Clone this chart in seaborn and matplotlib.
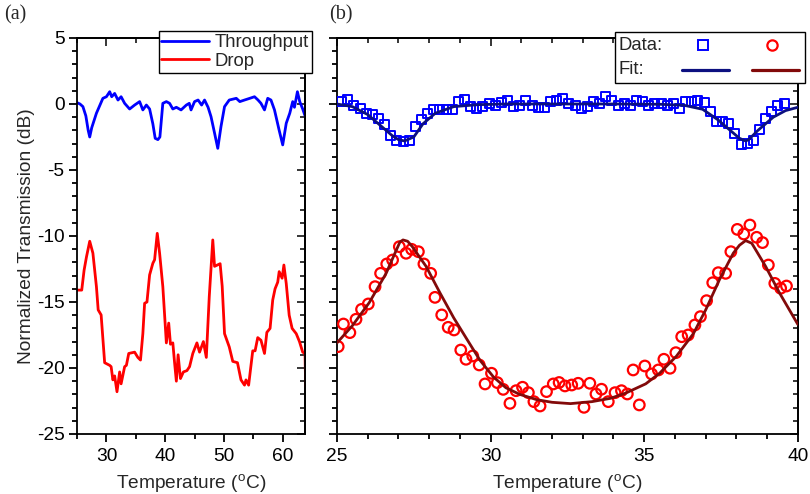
import numpy as np
import pandas as pd
import matplotlib
matplotlib.use("Agg")
import matplotlib.pyplot as plt
from matplotlib.ticker import MultipleLocator, NullFormatter
from matplotlib.lines import Line2D
from matplotlib.patches import Rectangle
import seaborn as sns

# ---------------- data ----------------
# panel (a)
thr_T = [25.0, 25.5, 26.0, 26.5, 26.9, 27.16, 27.5, 28.3, 29.4, 30.0, 30.56, 30.9, 31.4, 31.97,
         32.5, 33.1, 33.95, 34.8, 35.65, 36.2, 36.8, 37.35, 37.9, 38.3, 38.76, 39.1, 39.6, 40.2,
         40.75, 41.3, 41.9, 42.7, 43.6, 44.1, 44.4, 45.0, 45.6, 46.2, 46.7, 47.3, 47.8, 48.4,
         48.95, 49.5, 50.1, 50.9, 52.1, 52.7, 53.5, 54.4, 55.2, 55.8, 56.3, 56.9, 57.45, 58.0,
         58.6, 59.4, 60.0, 60.6, 61.2, 61.7, 62.0, 62.5, 62.9, 63.4, 63.85]
thr_v = [0.1, 0.0, -0.2, -0.9, -2.0, -2.5, -1.8, -0.7, 0.43, 0.55, 0.93, 0.55, 0.8, 0.3,
         0.55, 0.05, -0.38, -0.08, 0.18, -0.45, -0.08, -0.38, -1.5, -2.6, -2.7, -2.5, 0.05, 0.18,
         0.05, -0.38, -0.25, -0.45, -0.08, 0.05, -0.45, 0.18, 0.3, -0.08, 0.3, -0.25, -0.96, -2.2,
         -3.36, -1.7, -0.2, 0.3, 0.43, 0.18, 0.3, 0.43, 0.55, 0.3, 0.05, -0.45, 0.43, 0.3,
         -0.45, -2.0, -3.1, -1.46, -0.7, 0.18, -0.25, 0.93, 0.18, -0.38, -0.96]

drop_T = [25.0, 25.8, 26.2, 26.6, 27.16, 27.7, 28.3, 28.6, 29.1, 29.7, 30.55, 30.8, 31.1, 31.4,
          31.8, 32.25, 32.5, 33.1, 33.4, 33.8, 34.8, 35.35, 35.8, 36.2, 36.5, 36.9, 37.35, 37.9,
          38.2, 38.65, 39.05, 39.6, 40.2, 40.6, 40.9, 41.3, 41.6, 41.9, 42.2, 42.6, 43.1, 43.7,
          44.15, 44.7, 45.4, 45.85, 46.5, 47.0, 47.5, 48.1, 48.4, 49.35, 49.7, 50.1, 50.9, 51.5,
          52.3, 52.9, 53.5, 53.75, 54.2, 54.9, 55.3, 55.75, 56.3, 56.9, 57.3, 57.85, 58.3, 58.7,
          59.15, 59.4, 59.9, 60.2, 60.6, 61.1, 61.6, 62.3, 62.85, 63.4, 63.8, 63.9]
drop_v = [-14.1, -14.1, -12.6, -11.6, -10.4, -11.3, -13.84, -15.6, -15.98, -19.6, -19.8, -19.9, -20.9, -20.6,
          -21.8, -20.3, -21.2, -19.9, -19.8, -18.9, -18.8, -19.2, -19.4, -17.4, -15.1, -15.0, -12.95, -12.07,
          -11.8, -9.8, -11.3, -13.84, -18.1, -16.6, -18.2, -18.1, -19.6, -21.0, -19.0, -20.8, -20.3, -20.2,
          -19.9, -18.9, -18.1, -18.8, -18.0, -19.2, -14.6, -10.3, -12.3, -12.1, -13.8, -17.4, -18.4, -19.5,
          -19.6, -20.9, -21.3, -20.9, -21.3, -18.7, -18.7, -17.7, -17.9, -18.9, -17.3, -17.0, -14.85, -14.0,
          -13.5, -12.7, -13.2, -12.2, -13.6, -16.0, -17.0, -17.4, -18.0, -18.8, -18.9, -21.4]

# panel (b) data points
sq_T = [25.15, 25.35, 25.55, 25.75, 25.95, 26.15, 26.35, 26.55, 26.75, 26.95, 27.15, 27.35, 27.55,
        27.75, 27.95, 28.15, 28.35, 28.55, 28.75, 28.95, 29.15, 29.35, 29.55, 29.75, 29.95, 30.15,
        30.35, 30.55, 30.75, 30.95, 31.15, 31.35, 31.55, 31.75, 31.95, 32.15, 32.35, 32.55, 32.75,
        32.95, 33.15, 33.35, 33.55, 33.75, 33.95, 34.15, 34.35, 34.55, 34.75, 34.95, 35.15, 35.35,
        35.55, 35.75, 35.95, 36.15, 36.35, 36.55, 36.75, 36.95, 37.15, 37.35, 37.55, 37.75, 37.95,
        38.15, 38.35, 38.55, 38.75, 38.95, 39.15, 39.35, 39.55]
sq_v = [0.18, 0.35, -0.08, -0.33, -0.71, -0.83, -1.08, -1.59, -2.42, -2.73, -2.85, -2.73, -1.72,
        -1.21, -0.71, -0.45, -0.38, -0.38, -0.45, 0.18, 0.35, -0.2, -0.33, -0.2, 0.05, -0.08,
        0.1, 0.3, -0.2, -0.08, 0.25, -0.15, -0.25, -0.25, 0.18, 0.25, 0.43, 0.05, -0.08,
        -0.33, -0.2, 0.18, 0.05, 0.55, 0.3, -0.08, 0.0, -0.08, 0.25, 0.18, -0.15, 0.05,
        0.0, -0.08, 0.0, -0.33, 0.18, 0.18, 0.25, 0.1, -0.58, -1.34, -1.34, -1.46, -2.22,
        -3.1, -2.98, -2.73, -1.97, -1.08, -0.58, -0.08, 0.0]

ci_T = [25.04, 25.21, 25.42, 25.62, 25.80, 26.02, 26.24, 26.42, 26.62, 26.81, 27.03, 27.25, 27.43,
        27.65, 27.83, 28.05, 28.19, 28.41, 28.62, 28.81, 29.03, 29.20, 29.42, 29.63, 29.82, 30.03,
        30.22, 30.41, 30.63, 30.83, 31.04, 31.23, 31.41, 31.61, 31.82, 32.04, 32.23, 32.42, 32.64,
        32.85, 33.04, 33.23, 33.43, 33.61, 33.83, 34.05, 34.26, 34.45, 34.64, 34.84, 35.02, 35.24,
        35.46, 35.64, 35.84, 36.03, 36.22, 36.43, 36.65, 36.83, 37.03, 37.23, 37.41, 37.65, 37.82,
        38.03, 38.24, 38.44, 38.66, 38.85, 39.04, 39.25, 39.44, 39.63]
ci_v = [-18.38, -16.67, -17.32, -16.31, -15.56, -15.15, -13.84, -12.83, -12.12, -11.82, -10.81, -11.31, -11.01,
        -11.19, -12.12, -12.83, -14.65, -15.98, -16.92, -17.12, -18.64, -19.34, -19.09, -19.77, -21.21, -20.40,
        -21.11, -21.62, -22.68, -21.72, -21.46, -21.87, -22.55, -22.88, -21.79, -21.21, -21.10, -21.36, -21.29,
        -21.16, -22.98, -21.16, -21.97, -21.61, -22.55, -21.87, -21.72, -21.97, -20.15, -22.80, -19.85, -20.45,
        -20.15, -19.34, -20.02, -18.84, -17.63, -17.50, -16.74, -16.11, -14.90, -13.54, -12.78, -12.83, -11.19,
        -9.50, -9.85, -9.17, -10.10, -10.50, -12.20, -13.59, -13.96, -13.79]

# panel (b) fit curves
fitb_T = [25.0, 25.5, 26.0, 26.5, 26.8, 27.0, 27.2, 27.5, 27.8, 28.2, 28.8, 29.6, 30.5, 32.0, 34.0,
          35.5, 36.3, 36.9, 37.4, 37.8, 38.1, 38.3, 38.4, 38.7, 39.2, 39.6, 40.0]
fitb_v = [0.0, -0.2, -0.8, -1.8, -2.4, -2.7, -2.8, -2.5, -1.5, -0.7, -0.2, -0.05, 0.0, 0.0, 0.0,
          -0.02, -0.1, -0.4, -1.2, -2.0, -2.6, -2.8, -2.7, -2.0, -1.0, -0.5, -0.25]

fitr_T = [25.0, 25.5, 26.05, 26.6, 26.85, 27.05, 27.15, 27.3, 27.45, 27.9, 28.35, 28.8, 29.25, 29.65,
          30.1, 30.5, 30.95, 31.5, 32.0, 32.6, 33.3, 33.9, 34.4, 35.05, 35.5, 36.05, 36.6, 37.0,
          37.45, 37.9, 38.1, 38.3, 38.5, 38.95, 39.4, 39.85, 40.0]
fitr_v = [-18.1, -16.8, -15.05, -12.83, -11.5, -10.45, -10.3, -10.4, -10.8, -12.3, -14.3, -16.2, -17.9, -19.4,
          -20.7, -21.5, -22.0, -22.4, -22.6, -22.7, -22.55, -22.3, -21.9, -21.2, -20.4, -19.1, -17.4, -15.6,
          -13.3, -11.3, -10.7, -10.35, -10.55, -12.3, -14.3, -16.1, -16.7]

# ---------------- style ----------------
sns.set_theme(style="ticks")
plt.rcParams["font.family"] = ["Liberation Sans", "DejaVu Sans"]
plt.rcParams["mathtext.fontset"] = "custom"
plt.rcParams["mathtext.rm"] = "Liberation Sans"
plt.rcParams["mathtext.it"] = "Liberation Sans:italic"
plt.rcParams["axes.linewidth"] = 1.3
plt.rcParams["axes.unicode_minus"] = False

BLUE = "#0000ff"
RED = "#ff0000"
NAVY = "#0c1080"
DARKRED = "#820a0a"

W, H = 810, 494
fig = plt.figure(figsize=(W / 100, H / 100), dpi=100)
axA = fig.add_axes([0.0951, 0.1215, 0.2815, 0.8016])
axB = fig.add_axes([0.4160, 0.1215, 0.5690, 0.8016])

FS = 13.8
LFS = 13.3


def style_axes(ax, xmaj, xmin, ylabels=True):
    ax.set_ylim(-25, 5)
    ax.xaxis.set_major_locator(MultipleLocator(xmaj))
    ax.xaxis.set_minor_locator(MultipleLocator(xmin))
    ax.yaxis.set_major_locator(MultipleLocator(5))
    ax.yaxis.set_minor_locator(MultipleLocator(1))
    ax.tick_params(which="major", direction="out", length=6, width=1.3,
                   labelsize=FS, colors="black", pad=4)
    ax.tick_params(which="minor", direction="out", length=3.5, width=1.3, colors="black")
    ax.tick_params(axis="y", labelleft=ylabels, pad=3)
    for s in ax.spines.values():
        s.set_color("black")
        s.set_linewidth(1.3)
        s.set_visible(True)
    top = ax.secondary_xaxis("top")
    top.xaxis.set_major_locator(MultipleLocator(xmaj))
    top.xaxis.set_minor_locator(MultipleLocator(xmin))
    top.tick_params(which="major", direction="in", length=6, width=1.3, labeltop=False)
    top.tick_params(which="minor", direction="in", length=3.5, width=1.3)
    top.xaxis.set_major_formatter(NullFormatter())
    right = ax.secondary_yaxis("right")
    right.yaxis.set_major_locator(MultipleLocator(5))
    right.yaxis.set_minor_locator(MultipleLocator(1))
    right.tick_params(which="major", direction="in", length=6, width=1.3, labelright=False)
    right.tick_params(which="minor", direction="in", length=3.5, width=1.3)
    right.yaxis.set_major_formatter(NullFormatter())
    for sec in (top, right):
        for s in sec.spines.values():
            s.set_linewidth(1.3)
            s.set_color("black")


# ---------------- panel (a) ----------------
dfa = pd.DataFrame({"T": thr_T, "v": thr_v})
dfd = pd.DataFrame({"T": drop_T, "v": drop_v})
sns.lineplot(data=dfa, x="T", y="v", ax=axA, color=BLUE, lw=2.0, label="Throughput",
             estimator=None, sort=False)
sns.lineplot(data=dfd, x="T", y="v", ax=axA, color=RED, lw=2.0, label="Drop",
             estimator=None, sort=False)
axA.set_xlim(25, 63.8)
style_axes(axA, 10, 5)
axA.set_xlabel("Temperature ($^{\\mathrm{o}}$C)", fontsize=FS, labelpad=5)
axA.set_ylabel("Normalized Transmission (dB)", fontsize=FS, labelpad=1)
legA = axA.legend(loc="upper right", bbox_to_anchor=(1.03, 1.017), borderaxespad=0,
                  fontsize=LFS, frameon=True, fancybox=False, framealpha=1,
                  edgecolor="black", handlelength=2.6, handletextpad=0.3,
                  borderpad=0.15, labelspacing=0.1)
legA.get_frame().set_linewidth(1.0)

# ---------------- panel (b) ----------------
dsq = pd.DataFrame({"T": sq_T, "v": sq_v})
dci = pd.DataFrame({"T": ci_T, "v": ci_v})
dfb = pd.DataFrame({"T": fitb_T, "v": fitb_v})
dfr = pd.DataFrame({"T": fitr_T, "v": fitr_v})
sns.scatterplot(data=dsq, x="T", y="v", ax=axB, marker="s", s=42, facecolor="none",
                edgecolor=BLUE, linewidth=1.4, zorder=3)
sns.scatterplot(data=dci, x="T", y="v", ax=axB, marker="o", s=58, facecolor="none",
                edgecolor=RED, linewidth=1.6, zorder=3)
sns.lineplot(data=dfb, x="T", y="v", ax=axB, color=NAVY, lw=2.0, estimator=None, sort=False, zorder=4)
sns.lineplot(data=dfr, x="T", y="v", ax=axB, color=DARKRED, lw=2.0, estimator=None, sort=False, zorder=4)
axB.set_xlim(25, 40)
style_axes(axB, 5, 1, ylabels=False)
axB.set_ylabel("")
axB.set_xlabel("Temperature ($^{\\mathrm{o}}$C)", fontsize=FS, labelpad=5)

# custom two-row legend for panel (b), placed in figure pixels


def fx(px):
    return px / W


def fy(py):
    return 1 - py / H


fig.add_artist(Rectangle((fx(615), fy(83)), fx(805) - fx(615), fy(32) - fy(83),
                         transform=fig.transFigure, facecolor="white", edgecolor="black",
                         linewidth=1.0, zorder=10))
fig.text(fx(619), fy(46), "Data:", fontsize=LFS, va="center", ha="left", zorder=11)
fig.text(fx(619), fy(70), "Fit:", fontsize=LFS, va="center", ha="left", zorder=11)
fig.add_artist(Line2D([fx(703)], [fy(45)], transform=fig.transFigure, linestyle="none",
                      marker="s", markersize=6.5, markerfacecolor="none",
                      markeredgecolor=BLUE, markeredgewidth=1.4, zorder=11))
fig.add_artist(Line2D([fx(772)], [fy(45)], transform=fig.transFigure, linestyle="none",
                      marker="o", markersize=7.4, markerfacecolor="none",
                      markeredgecolor=RED, markeredgewidth=1.6, zorder=11))
fig.add_artist(Line2D([fx(682), fx(729)], [fy(70), fy(70)], transform=fig.transFigure,
                      color=NAVY, lw=2.3, zorder=11))
fig.add_artist(Line2D([fx(752), fx(799)], [fy(70), fy(70)], transform=fig.transFigure,
                      color=DARKRED, lw=2.3, zorder=11))

# panel labels
fig.text(0.005, 0.99, "(a)", fontsize=14.5, family=["Liberation Serif", "DejaVu Serif"], va="top")
fig.text(0.406, 0.99, "(b)", fontsize=14.5, family=["Liberation Serif", "DejaVu Serif"], va="top")

fig.savefig("out.png", dpi=100)
